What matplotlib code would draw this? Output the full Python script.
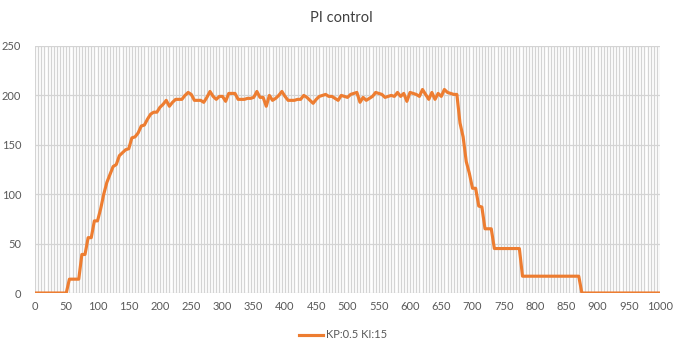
import matplotlib
matplotlib.use("Agg")
import matplotlib.pyplot as plt
import numpy as np

plt.rcParams["font.family"] = ["Lato", "DejaVu Sans"]

# sample times (step 5) and controller output
times = np.arange(0, 1005, 5)
rise = [0] * 11 + [14, 14, 14, 14, 39, 39, 56, 56, 73, 73,
                   85, 100, 112, 120, 128, 130, 139, 142, 145, 146,
                   157, 158, 162, 169, 170, 176, 181, 183, 183, 188,
                   191, 195, 189, 193, 196, 196, 196, 200, 203, 201]
plateau = [195, 195, 195, 193, 198, 204, 199, 196, 199, 199,
           194, 202, 202, 202, 196, 196, 196, 197, 197, 198,
           204, 198, 198, 189, 200, 195, 197, 200, 204, 199,
           195, 195, 195, 196, 196, 200, 198, 195, 192, 196,
           199, 200, 201, 199, 199, 197, 195, 200, 199, 198,
           201, 202, 203, 193, 198, 195, 197, 199, 203, 202,
           201, 198, 199, 200, 199, 203, 199, 202, 194, 203,
           202, 201, 199, 206, 201, 196, 203, 196, 202, 199,
           206, 203, 202, 201, 201]
fall = [172, 158, 133, 121, 106, 106, 88, 87, 65, 65, 65] + [45] * 9 \
    + [17] * 19 + [0] * 26
output = rise + plateau + fall

series_label = "KP:0.5 KI:15"
title = "PI control"
y_ticks = [0, 50, 100, 150, 200, 250]
x_ticks = list(range(0, 1001, 50))

grid_col = "#d4d4d4"
text_col = "#595959"

fig = plt.figure(figsize=(6.83, 3.52), dpi=100)
ax = fig.add_axes([35 / 683, 1 - 293 / 352, 625 / 683, 247 / 352])

# fine vertical grid every 5, horizontal every 50
for xv in range(0, 1001, 5):
    ax.axvline(xv, color=grid_col, lw=0.9, zorder=0)
for yv in y_ticks:
    ax.axhline(yv, color=grid_col, lw=0.9, zorder=0)

ax.plot(times[:len(output)], output, color="#ED7D31", lw=2.25,
        solid_joinstyle="round", label=series_label, zorder=3)

ax.set_xlim(0, 1000)
ax.set_ylim(0, 250)
ax.set_xticks(x_ticks)
ax.set_yticks(y_ticks)
ax.tick_params(length=0, labelsize=8, colors=text_col)
ax.tick_params(axis="y", pad=10)
ax.tick_params(axis="x", pad=6)
for s in ax.spines.values():
    s.set_visible(False)

fig.text(0.5, 1 - 18 / 352, title, ha="center", va="center",
         fontsize=10.5, color="#404040")
fig.legend(loc="center", bbox_to_anchor=(343 / 683, 1 - 335 / 352),
           frameon=False, fontsize=8, labelcolor=text_col,
           handlelength=2.2, handletextpad=0.3)

fig.savefig("out.png", dpi=100)
